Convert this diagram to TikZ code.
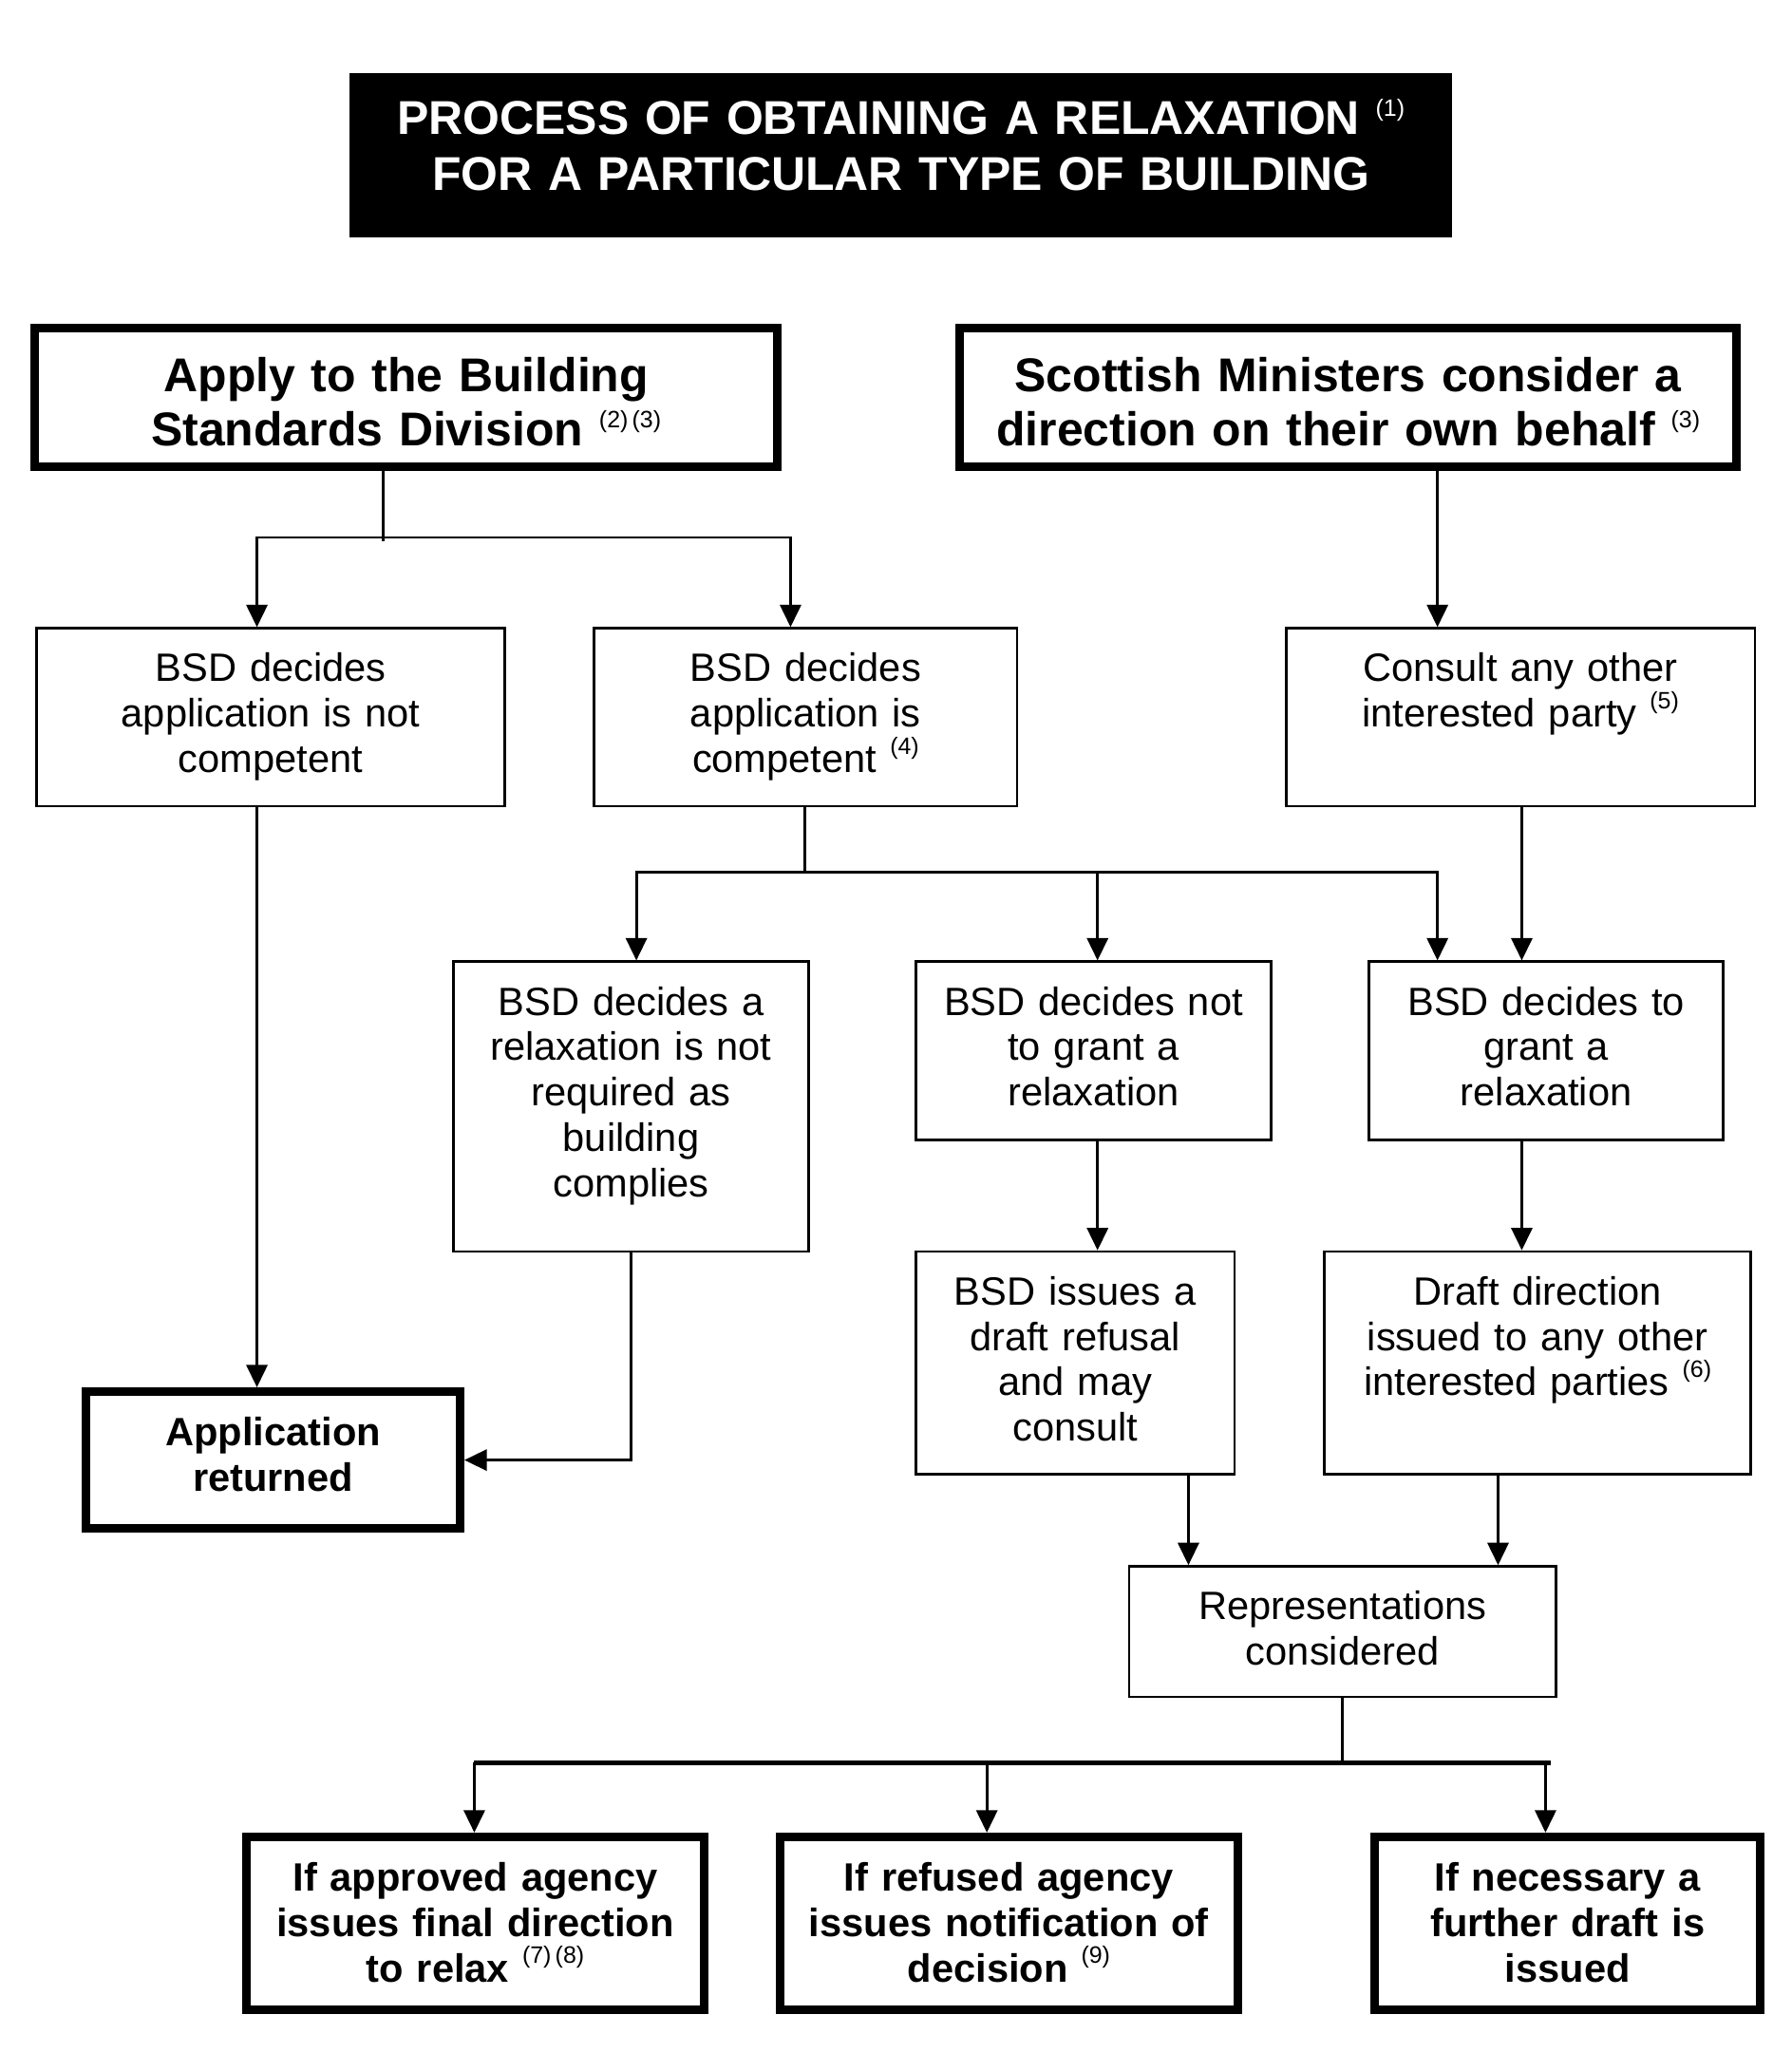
\documentclass[tikz,border=0pt]{standalone}
\usepackage{fontspec}
\setmainfont{Liberation Sans}
\usepackage{tikz}
\usetikzlibrary{arrows.meta,calc}

\newcommand{\fnref}[1]{\raisebox{14pt}{\fontsize{18}{18}\selectfont\mdseries #1}}

\tikzset{
  procbox/.style={draw, line width=2pt, anchor=north west, inner sep=0pt, align=center,
    font=\fontsize{30}{34.5}\selectfont, text height=40.5pt},
  keybox/.style={procbox, line width=6.5pt, text height=41pt, font=\fontsize{30}{34.5}\selectfont\bfseries},
  headbox/.style={keybox, text height=48pt, font=\fontsize{36}{41.5}\selectfont\bfseries},
  link/.style={line width=2pt},
  flow/.style={link, -{Triangle[length=17pt,width=16pt]}}
}

\begin{document}
\begin{tikzpicture}[x=1pt, y=-1pt]
    \useasboundingbox (0,0) rectangle (1360,1572);

    \node[headbox, draw=none, fill=black, text=white, text width=837pt, text height=47pt, text depth=78pt, font=\fontsize{36}{42}\selectfont\bfseries] (title) at (262,52)
        {PROCESS OF OBTAINING A RELAXATION \fnref{(1)}\\FOR A PARTICULAR TYPE OF BUILDING};

    \node[headbox, text width=564pt, text depth=57pt] (apply) at (23,246) {Apply to the Building\\Standards Division \fnref{(2)\,(3)}};
    \node[headbox, text width=590pt, text depth=57pt] (minister) at (725,246) {Scottish Ministers consider a\\direction on their own behalf \fnref{(3)}};

    \node[procbox, text width=355pt, text depth=94.5pt] (notcomp) at (27,476) {BSD decides\\application is not\\competent};
    \node[procbox, text width=321pt, text depth=94.5pt] (comp) at (450,476) {BSD decides\\application is\\competent \fnref{(4)}};
    \node[procbox, text width=356pt, text depth=94.5pt] (consult) at (975,476) {Consult any other\\interested party \fnref{(5)}};

    \node[procbox, text width=270pt, text depth=179.5pt] (notreq) at (343,729) {BSD decides a\\relaxation is not\\required as\\building\\complies};
    \node[procbox, text width=270pt, text depth=94.5pt] (refuse) at (694,729) {BSD decides not\\to grant a\\relaxation};
    \node[procbox, text width=269pt, text depth=94.5pt] (grant) at (1038,729) {BSD decides to\\grant a\\relaxation};

    \node[procbox, text width=242pt, text depth=128.5pt] (draftref) at (694,949) {BSD issues a\\draft refusal\\and may\\consult};
    \node[procbox, text width=324pt, text depth=128.5pt] (draftdir) at (1004,949) {Draft direction\\issued to any other\\interested parties \fnref{(6)}};
    \node[procbox, text width=324pt, text depth=58.5pt] (reps) at (856,1188) {Representations\\considered};

    \node[keybox, text width=284pt, text depth=63pt] (returned) at (62,1053) {Application\\returned};

    \node[keybox, text width=347pt, text depth=90pt] (final) at (184,1391) {If approved agency\\issues final direction\\to relax \fnref{(7)\,(8)}};
    \node[keybox, text width=347pt, text depth=90pt] (notify) at (589,1391) {If refused agency\\issues notification of\\decision \fnref{(9)}};
    \node[keybox, text width=293pt, text depth=90pt] (further) at (1040,1391) {If necessary a\\further draft is\\issued};

    \coordinate (splitA) at (291,408);
    \coordinate (dropC) at (195,408);
    \coordinate (dropD) at (600,408);
    \coordinate (dropE) at (1091,400);
    \coordinate (splitD) at (611,662);
    \coordinate (dropF) at (483,662);
    \coordinate (dropG) at (833,662);
    \coordinate (dropH) at (1091,662);
    \coordinate (sideE) at (1155,700);
    \coordinate (dropI) at (902,1150);
    \coordinate (dropJ) at (1137,1150);
    \coordinate (splitK) at (1019,1338);
    \coordinate (dropM) at (360,1338);
    \coordinate (dropN) at (749,1338);
    \coordinate (dropO) at (1173,1338);

    \draw[link] (apply.south -| splitA) -- ([yshift=-3pt]splitA);
    \draw[flow] (splitA) -| (notcomp.north -| dropC);
    \draw[flow] (splitA) -| (comp.north -| dropD);
    \draw[flow] (minister.south -| dropE) -- (consult.north -| dropE);

    \draw[flow] (notcomp.south -| dropC) -- (returned.north -| dropC);
    \draw[link] (comp.south -| splitD) -- (splitD);
    \draw[flow] (splitD) -| (notreq.north -| dropF);
    \draw[flow] (dropG) -- (refuse.north -| dropG);
    \draw[flow] (splitD) -| (grant.north -| dropH);
    \draw[flow] (consult.south -| sideE) -- (grant.north -| sideE);

    \draw[flow] (notreq.south) |- (returned.east);
    \draw[flow] (refuse.south -| dropG) -- (draftref.north -| dropG);
    \draw[flow] (grant.south -| sideE) -- (draftdir.north -| sideE);
    \draw[flow] (draftref.south -| dropI) -- (reps.north -| dropI);
    \draw[flow] (draftdir.south -| dropJ) -- (reps.north -| dropJ);

    \draw[link] (reps.south -| splitK) -- (splitK);
    \draw[link, line width=3.5pt] (dropM) -- ([xshift=4pt]dropO);
    \draw[flow] (dropM) -- (final.north -| dropM);
    \draw[flow] (dropN) -- (notify.north -| dropN);
    \draw[flow] (dropO) -- (further.north -| dropO);
\end{tikzpicture}
\end{document}
